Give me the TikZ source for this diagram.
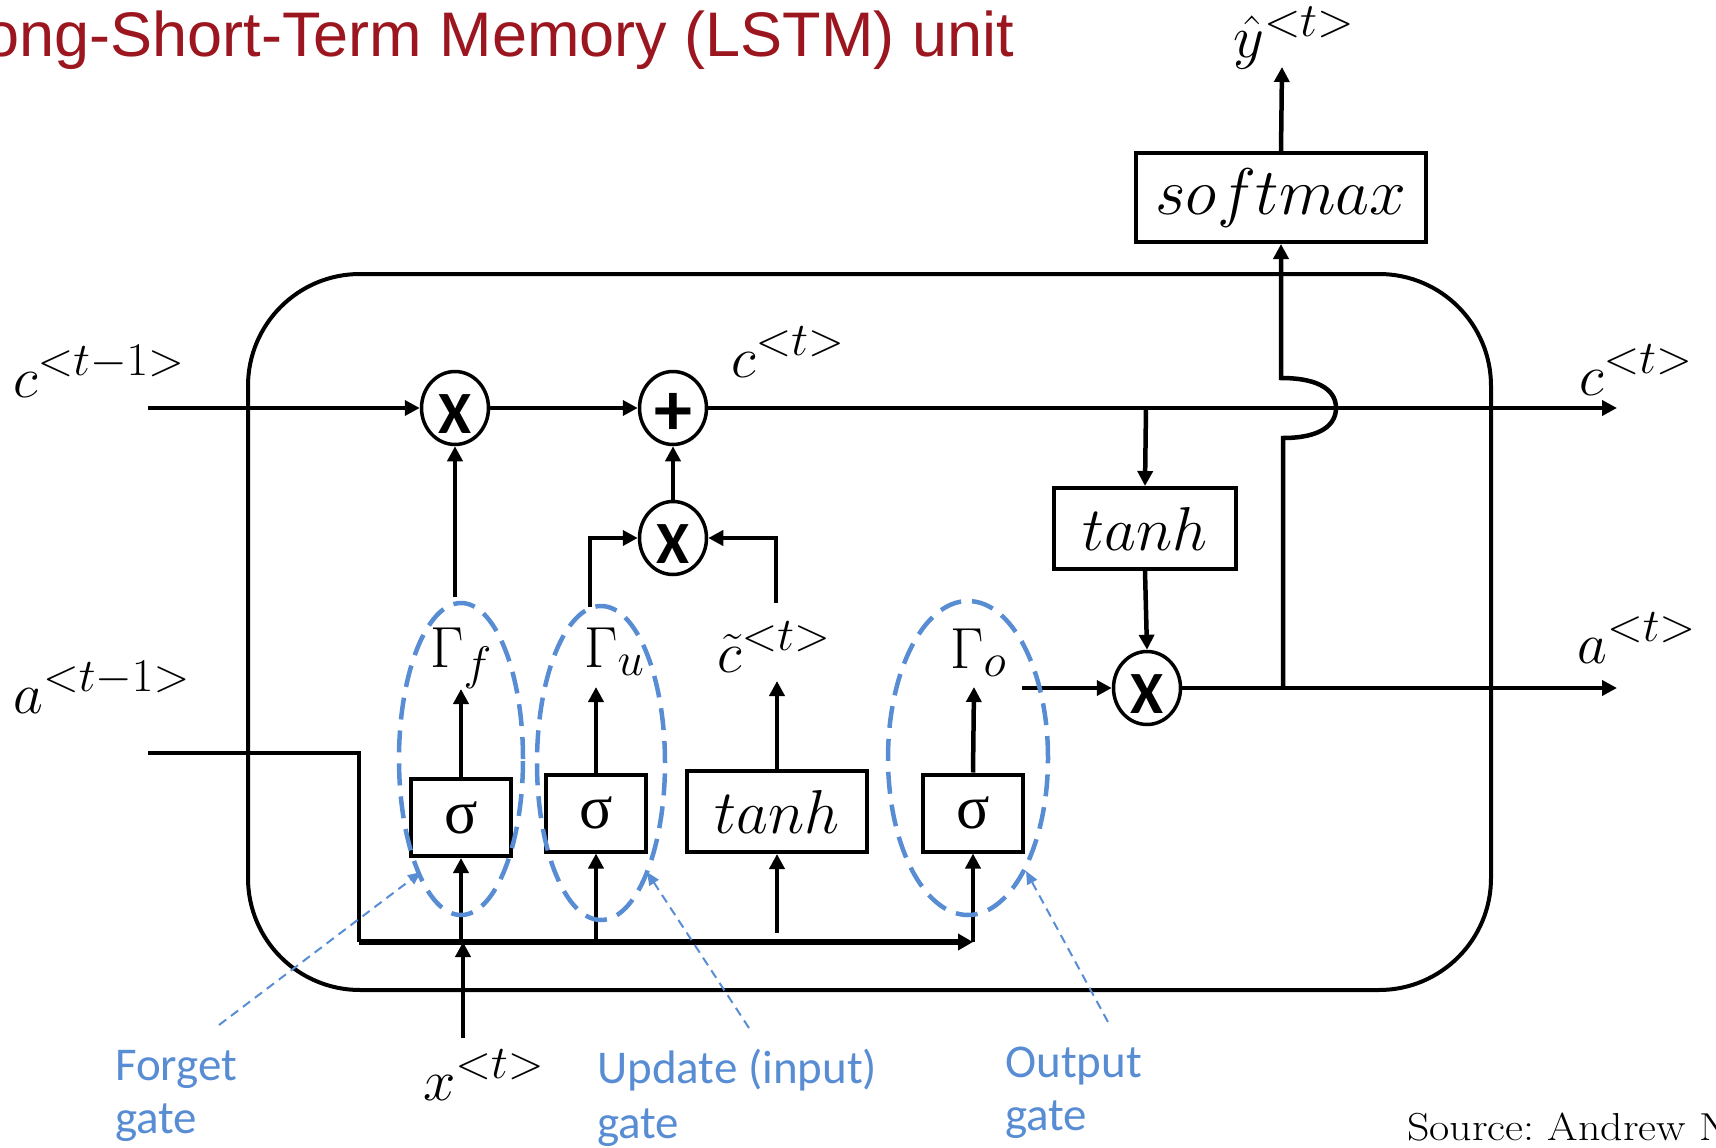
\RequirePackage{fix-cm}
\documentclass[tikz,border=0pt]{standalone}
\usepackage{fontspec}
\usepackage{graphicx}
\usetikzlibrary{arrows.meta,shapes.geometric}
\newfontfamily\titlefont{Liberation Sans}
\newfontfamily\calfont{Carlito}
\newfontfamily\sigfont{Liberation Serif}
\DeclareMathSizes{58}{58}{47}{36}
\DeclareMathSizes{60}{60}{48}{37}
\DeclareMathSizes{62}{62}{50}{38}
\definecolor{titlered}{RGB}{156,22,32}
\definecolor{gblue}{RGB}{88,141,212}
\newcommand{\opsym}[1]{\raisebox{-6pt}[\height][\depth]{#1}}
\tikzset{
  ln/.style={line width=4.5pt},
  arr/.style={ln, -{Triangle[length=15pt,width=15pt]}},
  op/.style={ellipse, draw, line width=3.5pt, minimum width=67pt, minimum height=73pt, inner sep=0pt,
    font=\calfont\bfseries\fontsize{60}{60}\selectfont},
  fbox/.style={draw, line width=4pt, inner sep=0pt},
  sig/.style={fbox, minimum width=100pt, minimum height=77pt, font=\sigfont\fontsize{62}{62}\selectfont},
  boxmath/.style={fbox, font=\fontsize{62}{64}\selectfont},
  lbl/.style={inner sep=0pt, anchor=base west, font=\fontsize{58}{60}\selectfont},
  gate/.style={ellipse, draw=gblue, line width=4.5pt, dash pattern=on 22pt off 11pt, inner sep=0pt},
  callout/.style={draw=gblue, line width=2pt, dash pattern=on 9pt off 6pt, -{Triangle[length=13pt,width=11pt]}},
  bluetext/.style={text=gblue, font=\calfont\fontsize{47}{55}\selectfont, anchor=base west, inner sep=0pt},
}
\begin{document}
\frenchspacing
\begin{tikzpicture}[x=1pt, y=-1pt]
\useasboundingbox (0,0) rectangle (1716,1148);

% title
\node[anchor=base east, inner sep=0pt, text=titlered, font=\titlefont\fontsize{63}{63}\selectfont] (title) at (1014,57) {Long-Short-Term Memory (LSTM) unit};

% cell
\node[draw, line width=4pt, rounded corners=112pt, minimum width=1243pt, minimum height=716pt, inner sep=0pt] (cell) at (869.5,632) {};

% operators
\node[op] (fmul) at (455,408) {\opsym{X}};
\node[op, font=\calfont\bfseries\fontsize{76}{76}\selectfont] (plus) at (673,408) {\opsym{+}};
\node[op] (umul) at (673,538) {\opsym{X}};
\node[op] (omul) at (1147,688) {\opsym{X}};

% boxes
\node[sig] (s1) at (461,817.5) {σ};
\node[sig] (s2) at (596,813) {σ};
\node[boxmath, minimum width=180pt, minimum height=81pt] (th) at (777,811.5) {$tanh$};
\node[sig] (s4) at (973,813) {σ};
\node[boxmath, minimum width=182pt, minimum height=81pt] (th2) at (1145,528.5) {$tanh$};
\node[boxmath, minimum width=290pt, minimum height=89pt, font=\fontsize{66}{66}\selectfont] (sm) at (1281,197.5) {$softmax$};

% labels
\node[lbl] (cprev) at (13,397) {$c^{<t-1>}$};
\node[lbl] (aprev) at (13,713) {$a^{<t-1>}$};
\node[lbl] (ct) at (731,377) {$c^{<t>}$};
\node[lbl] (ctout) at (1579,395) {$c^{<t>}$};
\node[lbl] (atout) at (1577,663) {$a^{<t>}$};
\node[lbl] (xt) at (423,1100) {$x^{<t>}$};
\node[lbl, font=\fontsize{60}{62}\selectfont] (yhat) at (1233,58) {$\hat{y}^{<t>}$};
\node[lbl] (gf) at (430,667) {$\Gamma_f$};
\node[lbl] (gu) at (584,667) {$\Gamma_u$};
\node[lbl] (cc) at (717,672) {$\tilde{c}^{<t>}$};
\node[lbl] (go) at (950,668) {$\Gamma_o$};

% coordinates
\coordinate (cin) at (148,408);
\coordinate (cout) at (1617,408);
\coordinate (ctap) at (1146,408);
\coordinate (ain) at (148,753);
\coordinate (acorner) at (359,753);
\coordinate (busL) at (359,942);
\coordinate (busR) at (973,942);
\coordinate (xin) at (463,1038);
\coordinate (xbus) at (463,942);
\coordinate (aout) at (1617,688);
\coordinate (gfup) at (455,597);
\coordinate (guup) at (590,607);
\coordinate (ccup) at (776,603);
\coordinate (s1t) at (461,689);
\coordinate (s2t) at (596,687);
\coordinate (tht) at (777,681);
\coordinate (s4t) at (974,687);
\coordinate (s1b) at (461,942);
\coordinate (s2b) at (596,942);
\coordinate (thb) at (777,933);
\coordinate (s4b) at (973,942);
\coordinate (goR) at (1022,688);
\coordinate (tap) at (1283,688);
\coordinate (hopB) at (1283,438);
\coordinate (hopT) at (1281,378);
\coordinate (yout) at (1282,67);

% cell state
\draw[arr] (cin) -- (fmul);
\draw[arr] (fmul) -- (plus);
\draw[arr] (plus) -- (cout);
\draw[arr] (ctap) -- (th2.north);
\draw[arr] (th2.south) -- (omul.north);
\draw[arr] (umul) -- (plus);
\draw[arr] (gfup) -- (fmul.south);
\draw[arr] (guup) |- (umul.west);
\draw[arr] (ccup) |- (umul.east);

% gate outputs
\draw[arr] (s1.north) -- (s1t);
\draw[arr] (s2.north) -- (s2t);
\draw[arr] (th.north) -- (tht);
\draw[arr] (s4.north) -- (s4t);

% inputs
\draw[ln] (ain) -- (acorner) -- (busL);
\draw[line width=6pt, -{Triangle[length=15pt,width=16pt]}] (busL) -- (busR);
\draw[arr] (xin) -- (xbus);
\draw[arr] (s1b) -- (s1.south);
\draw[arr] (s2b) -- (s2.south);
\draw[arr] (thb) -- (th.south);
\draw[arr] (s4b) -- (s4.south);

% output
\draw[arr] (goR) -- (omul.west);
\draw[arr] (omul.east) -- (aout);
\draw[arr] (tap) -- (hopB) .. controls (1322,438) and (1336,424) .. (1336,408)
   .. controls (1336,392) and (1322,378) .. (hopT) -- (sm.south);
\draw[arr] (sm.north) -- (yout);

% gate ellipses
\node[gate, minimum width=124pt, minimum height=312pt] (fge) at (461,759) {};
\node[gate, minimum width=128pt, minimum height=314pt] (uge) at (601,763) {};
\node[gate, minimum width=160pt, minimum height=314pt] (oge) at (968,758) {};

% callouts
\coordinate (fgs) at (219,1025);
\coordinate (fgt) at (421,872);
\coordinate (ugs) at (749,1028);
\coordinate (ugt) at (647,872);
\coordinate (ogs) at (1108,1022);
\coordinate (ogt) at (1026,871);
\draw[callout] (fgs) -- (fgt);
\draw[callout] (ugs) -- (ugt);
\draw[callout] (ogs) -- (ogt);

% blue labels
\node[bluetext] (lf1) at (115,1080) {Forget};
\node[bluetext] (lf2) at (115,1133) {gate};
\node[bluetext] (lu1) at (597,1083) {Update (input)};
\node[bluetext] (lu2) at (597,1138) {gate};
\node[bluetext] (lo1) at (1005,1077) {Output};
\node[bluetext] (lo2) at (1005,1130) {gate};

% source
\node[anchor=base west, inner sep=0pt, font=\fontsize{39}{39}\selectfont] (src) at (1407,1140) {\scalebox{1.127}[1]{Source: Andrew Ng}};
\end{tikzpicture}
\end{document}
